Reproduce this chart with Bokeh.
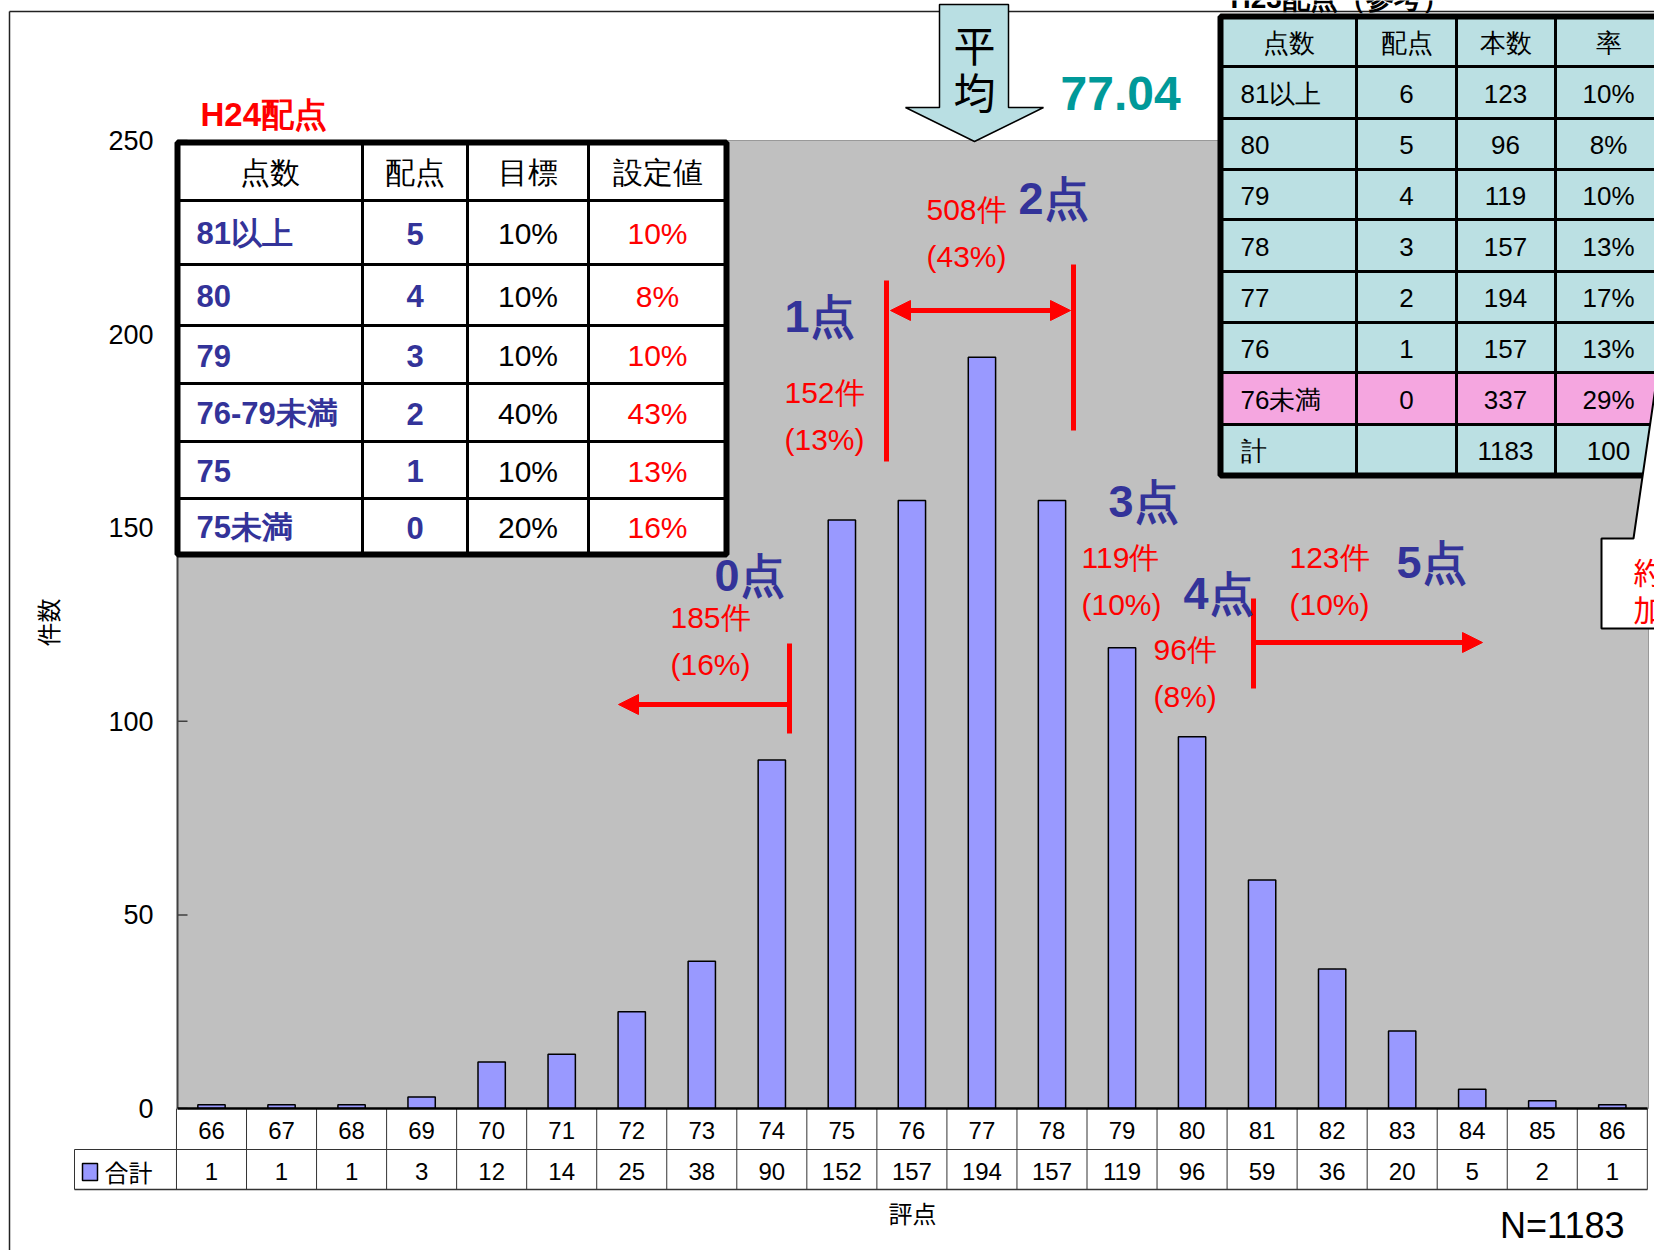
import math
from bokeh.plotting import figure
from bokeh.models import Range1d, Arrow, NormalHead
from bokeh.core.properties import value
from bokeh.embed import file_html
from bokeh.resources import INLINE

# ---------------- data ----------------
scores = list(range(66, 87))
counts = [1, 1, 1, 3, 12, 14, 25, 38, 90, 152, 157, 194, 157, 119, 96, 59, 36, 20, 5, 2, 1]
y_ticks = [0, 50, 100, 150, 200, 250]
legend_label = "合計"
x_title = "評点"
y_title = "件数"
n_label = "N=1183"
mean_label = ["平", "均"]
mean_value = "77.04"

h24_title = "H24配点"
h24_header = ["点数", "配点", "目標", "設定値"]
h24_score = ["81以上", "80", "79", "76-79未満", "75", "75未満"]
h24_points = ["5", "4", "3", "2", "1", "0"]
h24_target = ["10%", "10%", "10%", "40%", "10%", "20%"]
h24_set = ["10%", "8%", "10%", "43%", "13%", "16%"]

h23_title = "H23配点（参考）"
h23_header = ["点数", "配点", "本数", "率"]
h23_score = ["81以上", "80", "79", "78", "77", "76", "76未満", "計"]
h23_points = ["6", "5", "4", "3", "2", "1", "0", ""]
h23_count = ["123", "96", "119", "157", "194", "157", "337", "1183"]
h23_rate = ["10%", "8%", "10%", "13%", "17%", "13%", "29%", "100"]

band_points = ["0点", "1点", "2点", "3点", "4点", "5点"]
band_count = ["185件", "152件", "508件", "119件", "96件", "123件"]
band_rate = ["(16%)", "(13%)", "(43%)", "(10%)", "(8%)", "(10%)"]
callout_text = ["約", "加"]

# ---------------- geometry helpers (pixel -> data) ----------------
W, H = 1654, 1250
X0, DX = 211.0, 70.04      # pixel centre of score 66, pixels per score
Y0, DY = 1108.0, 3.872     # pixel of count 0, pixels per count


def X(px):
    return 66 + (px - X0) / DX


def Y(py):
    return (Y0 - py) / DY


p = figure(width=W, height=H, x_range=Range1d(X(0), X(W)), y_range=Range1d(Y(H), Y(0)),
           min_border=0, toolbar_location=None, output_backend="svg")
p.axis.visible = False
p.grid.visible = False
p.outline_line_color = None
p.background_fill_color = "white"
p.border_fill_color = "white"

SANS = "Liberation Sans"
CJK = "Noto Sans CJK JP"
NAVY = "#333399"
RED = "#FF0000"


def T(px, py, s, size, color="black", align="left", bold=False, font=SANS, angle=0.0,
      baseline="middle"):
    p.text(x=[X(px)], y=[Y(py)], text=[s], text_font=value(font), text_font_size=f"{size}px",
           text_color=color, text_align=align, text_baseline=baseline,
           text_font_style="bold" if bold else "normal", angle=angle)


def seg(x1, y1, x2, y2, color="black", width=1.0):
    p.line(x=[X(x1), X(x2)], y=[Y(y1), Y(y2)], line_color=color, line_width=width)


# outer chart frame
seg(9, 11, W, 11, "#222222", 1.5)
seg(9, 11, 9, H, "#222222", 1.5)

# gray plot area
p.quad(left=[X(177)], right=[X(1648)], top=[Y(140)], bottom=[Y(1108)],
       fill_color="#C0C0C0", line_color="#999999", line_width=1)

# y axis line, ticks and labels
seg(177, 140, 177, 1108, "#404040", 2)
for t in y_ticks:
    p.line(x=[X(177), X(187)], y=[t, t], line_color="#404040", line_width=1.5)
    p.text(x=[X(153)], y=[t], text=[str(t)], text_font=value(SANS), text_font_size="27px",
           text_align="right", text_baseline="middle", text_color="black")
T(47, 622, y_title, 24, font=CJK, align="center", angle=math.pi / 2)

# bars
p.vbar(x=scores, top=counts, bottom=0, width=0.39, fill_color="#9999FF",
       line_color="black", line_width=1.5)

# data table under the chart
row1_top, row1_bot, row2_bot = 1108, 1149, 1189
p.quad(left=[X(74)], right=[X(1647)], top=[Y(row1_bot)], bottom=[Y(row2_bot)],
       fill_color="white", line_color=None)
p.quad(left=[X(177)], right=[X(1647)], top=[Y(row1_top)], bottom=[Y(row1_bot)],
       fill_color="white", line_color=None)
edges = [s - 0.5 for s in scores] + [scores[-1] + 0.5]
p.multi_line(xs=[[e, e] for e in edges], ys=[[Y(row1_top), Y(row2_bot)] for _ in edges],
             line_color="#333333", line_width=1)
seg(74, row1_bot, 74, row2_bot, "#333333", 1)
seg(74, row1_bot, 1647, row1_bot, "#333333", 1)
seg(74, row2_bot, 1647, row2_bot, "#333333", 1.5)
seg(177, row1_top, 1647, row1_top, "black", 2.5)
p.text(x=scores, y=[Y(1130)] * len(scores), text=[str(s) for s in scores],
       text_font=value(SANS), text_font_size="24px", text_align="center",
       text_baseline="middle", text_color="black")
p.text(x=scores, y=[Y(1171)] * len(scores), text=[str(c) for c in counts],
       text_font=value(SANS), text_font_size="24px", text_align="center",
       text_baseline="middle", text_color="black")
p.quad(left=[X(82)], right=[X(97)], top=[Y(1163)], bottom=[Y(1180)],
       fill_color="#9999FF", line_color="black", line_width=1.5)
T(104, 1171, legend_label, 24, font=CJK)
T(912, 1212, x_title, 24, font=CJK, align="center")
T(1624, 1225, n_label, 36, align="right")

# red band markers
seg(886, 280, 886, 461, RED, 5)
seg(1073, 264, 1073, 430, RED, 5)
seg(789, 643, 789, 733, RED, 5)
seg(1253, 598, 1253, 688, RED, 5)
head = dict(size=20, fill_color=RED, line_color=RED)
p.add_layout(Arrow(start=NormalHead(**head), end=NormalHead(**head),
                   x_start=X(890), y_start=Y(310), x_end=X(1070), y_end=Y(310),
                   line_color=RED, line_width=5))
p.add_layout(Arrow(end=NormalHead(**head), x_start=X(789), y_start=Y(704),
                   x_end=X(618), y_end=Y(704), line_color=RED, line_width=5))
p.add_layout(Arrow(end=NormalHead(**head), x_start=X(1253), y_start=Y(642),
                   x_end=X(1482), y_end=Y(642), line_color=RED, line_width=5))

pt_pos = [(714, 575), (784, 316), (1018, 198), (1108, 501), (1183, 593), (1396, 562)]
cnt_pos = [(670, 617), (784, 392), (926, 209), (1081, 557), (1153, 649), (1289, 557)]
for s, (px, py) in zip(band_points, pt_pos):
    T(px, py, s, 45, NAVY, bold=True)
for s, r, (px, py) in zip(band_count, band_rate, cnt_pos):
    T(px, py, s, 30, RED)
    T(px, py + 47, r, 30, RED)

# H24 table (left)
T(200, 114, h24_title, 33, RED, bold=True)
lc = [177, 362, 467, 588, 726]
lr = [142, 200, 264, 325, 383, 441, 498, 554]
p.quad(left=[X(lc[0])], right=[X(lc[-1])], top=[Y(lr[0])], bottom=[Y(lr[-1])],
       fill_color="white", line_color=None)
for c in lc[1:-1]:
    seg(c, lr[0], c, lr[-1], "black", 3)
for r in lr[1:-1]:
    seg(lc[0], r, lc[-1], r, "black", 3)
p.quad(left=[X(lc[0])], right=[X(lc[-1])], top=[Y(lr[0])], bottom=[Y(lr[-1])],
       fill_color=None, line_color="black", line_width=6)
lcx = [(lc[i] + lc[i + 1]) / 2 for i in range(4)]
lry = [(lr[i] + lr[i + 1]) / 2 for i in range(7)]
for i, h in enumerate(h24_header):
    T(lcx[i], lry[0] + 1, h, 30, align="center")
for j in range(6):
    y = lry[j + 1] + 1
    T(196, y, h24_score[j], 31, NAVY, bold=True)
    T(lcx[1], y, h24_points[j], 31, NAVY, align="center", bold=True)
    T(lcx[2], y, h24_target[j], 30, align="center")
    T(lcx[3], y, h24_set[j], 30, RED, align="center")

# mean arrow
ax = [939, 1008, 1008, 1043, 974, 905, 939]
ay = [4, 4, 107, 107, 141, 107, 107]
p.patch(x=[X(v) for v in ax], y=[Y(v) for v in ay], fill_color="#B9DFE3",
        line_color="black", line_width=1.5)
T(974, 43, mean_label[0], 42, align="center", font=CJK)
T(974, 90, mean_label[1], 42, align="center", font=CJK)
T(1060, 93, mean_value, 48, "#009999", bold=True)

# H23 table (right)
T(1230, -2, h23_title, 28, bold=True, baseline="alphabetic")
rc = [1220, 1356, 1456, 1555, 1700]
rr = [16, 66, 118, 169, 219, 271, 322, 372, 424, 475]
for k in range(len(rr) - 1):
    fill = "#F5A6E0" if h23_score[k - 1:k] == ["76未満"] else "#BBE0E3"
    p.quad(left=[X(rc[0])], right=[X(rc[-1])], top=[Y(rr[k])], bottom=[Y(rr[k + 1])],
           fill_color=fill, line_color=None)
for c in rc[1:-1]:
    seg(c, rr[0], c, rr[-1], "black", 3)
for r in rr[1:-1]:
    seg(rc[0], r, rc[-1], r, "black", 3)
p.quad(left=[X(rc[0])], right=[X(rc[-1])], top=[Y(rr[0])], bottom=[Y(rr[-1])],
       fill_color=None, line_color="black", line_width=6)
rcx = [1240, 1406, 1505, 1608]
rry = [(rr[i] + rr[i + 1]) / 2 for i in range(9)]
for i, h in enumerate(h23_header):
    T(rcx[i] if i else (rc[0] + rc[1]) / 2, rry[0] + 1, h, 26, align="center")
for j in range(8):
    y = rry[j + 1] + 1
    T(rcx[0], y, h23_score[j], 26)
    T(rcx[1], y, h23_points[j], 26, align="center")
    T(rcx[2], y, h23_count[j], 26, align="center")
    T(rcx[3], y, h23_rate[j], 26, align="center")

# callout at right edge
cx = [1601, 1633, 1656, 1720, 1720, 1601]
cy = [538, 538, 380, 380, 628, 628]
p.patch(x=[X(v) for v in cx], y=[Y(v) for v in cy], fill_color="white",
        line_color="black", line_width=2)
T(1633, 570, callout_text[0], 30, RED, font=CJK)
T(1633, 607, callout_text[1], 30, RED, font=CJK)

open("out.html", "w").write(file_html(p, INLINE))
